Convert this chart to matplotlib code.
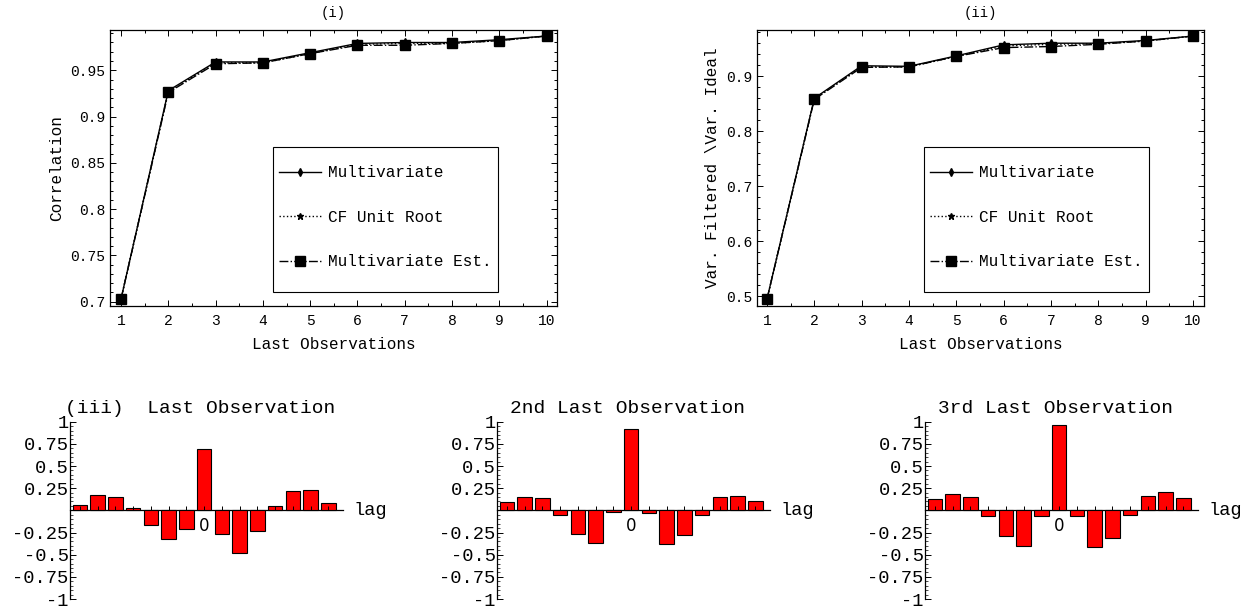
import matplotlib
matplotlib.use("Agg")
import matplotlib.pyplot as plt
from matplotlib.ticker import MultipleLocator, FixedLocator, FuncFormatter
from matplotlib.patches import Rectangle

plt.rcParams["font.family"] = ["Liberation Mono", "DejaVu Sans"]

# --- data ---
obs = [1, 2, 3, 4, 5, 6, 7, 8, 9, 10]

corr_multi = [0.703, 0.928, 0.959, 0.959, 0.969, 0.979, 0.980, 0.980, 0.983, 0.987]
corr_cf = [0.703, 0.927, 0.958, 0.958, 0.968, 0.978, 0.979, 0.979, 0.982, 0.987]
corr_est = [0.703, 0.926, 0.957, 0.958, 0.968, 0.977, 0.977, 0.979, 0.982, 0.987]

var_multi = [0.495, 0.860, 0.919, 0.918, 0.937, 0.957, 0.960, 0.960, 0.965, 0.973]
var_cf = [0.495, 0.859, 0.917, 0.917, 0.936, 0.955, 0.958, 0.959, 0.964, 0.973]
var_est = [0.495, 0.858, 0.916, 0.917, 0.936, 0.952, 0.954, 0.958, 0.964, 0.973]

lags = list(range(-7, 8))
w_last = [0.064, 0.177, 0.147, 0.026, -0.162, -0.323, -0.207, 0.688,
          -0.271, -0.477, -0.237, 0.053, 0.222, 0.226, 0.086]
w_2nd = [0.098, 0.154, 0.143, -0.049, -0.267, -0.365, -0.023, 0.921,
         -0.034, -0.380, -0.274, -0.049, 0.147, 0.162, 0.109]
w_3rd = [0.128, 0.188, 0.154, -0.060, -0.293, -0.398, -0.064, 0.962,
         -0.064, -0.410, -0.308, -0.053, 0.162, 0.211, 0.143]

labels = ["Multivariate", "CF Unit Root", "Multivariate Est."]
bar_ticks = [-1, -0.75, -0.5, -0.25, 0.25, 0.5, 0.75, 1]
bar_ticklabels = ["-1", "-0.75", "-0.5", "-0.25", "0.25", "0.5", "0.75", "1"]

W, H = 1258, 607
fig = plt.figure(figsize=(W / 100, H / 100), dpi=100)


def box(l, t, r, b):
    return [l / W, 1 - b / H, (r - l) / W, (b - t) / H]


def top_panel(rect, y1, y2, y3, xlim, ylim, major, minor, fmt, title, ylabel, leg_x):
    ax = fig.add_axes(rect)
    ax.plot(obs, y1, "-", color="black", lw=1.0, marker="d", ms=4)
    ax.plot(obs, y2, ":", color="black", lw=1.0, marker="*", ms=5)
    ax.plot(obs, y3, "-.", color="black", lw=1.0, marker="s", ms=7.5)
    ax.set_xlim(*xlim)
    ax.set_ylim(*ylim)
    ax.xaxis.set_major_locator(MultipleLocator(1))
    ax.xaxis.set_minor_locator(MultipleLocator(0.5))
    ax.yaxis.set_major_locator(MultipleLocator(major))
    ax.yaxis.set_minor_locator(MultipleLocator(minor))
    ax.yaxis.set_major_formatter(FuncFormatter(fmt))
    ax.tick_params(which="both", direction="in", top=True, right=True, labelsize=10.5, width=0.7)
    ax.tick_params(which="major", length=4)
    ax.tick_params(which="minor", length=2)
    ax.tick_params(axis="x", pad=6)
    for s in ax.spines.values():
        s.set_linewidth(0.9)
    ax.set_title(title, fontsize=10, pad=9)
    ax.set_xlabel("Last Observations", fontsize=11.5, labelpad=6)
    ax.set_ylabel(ylabel, fontsize=11.5, labelpad=4)

    # legend frame drawn by hand so the padding matches
    ax.add_patch(Rectangle((leg_x, 0.0507), 0.503, 0.5253, transform=ax.transAxes,
                           fill=False, edgecolor="black", lw=0.8, zorder=5))
    ax.legend(labels, loc="upper left", bbox_to_anchor=(leg_x + 0.014, 0.51),
              fontsize=11.5, frameon=False, handlelength=2.6, handletextpad=0.45,
              labelspacing=1.85, borderpad=0, numpoints=1, borderaxespad=0)
    return ax


def fmt_corr(v, pos):
    return f"{v:.2f}".rstrip("0")


def fmt_var(v, pos):
    return f"{v:.1f}"


# (i) correlation
top_panel(box(110, 30, 557, 306), corr_multi, corr_cf, corr_est,
          (0.767, 10.22), (0.6954, 0.9935), 0.05, 0.01, fmt_corr,
          "(i)", "Correlation", 0.3647)

# (ii) variance ratio
top_panel(box(757, 30, 1204, 306), var_multi, var_cf, var_est,
          (0.789, 10.23), (0.4824, 0.984), 0.1, 0.02, fmt_var,
          "(ii)", "Var. Filtered \\Var. Ideal", 0.3736)


def bar_panel(left, weights, title):
    ax = fig.add_axes(box(left, 421.7, left + 273, 599))
    ax.bar(lags, weights, width=0.82, color="#ff0000", edgecolor="black", linewidth=0.8, zorder=1)
    ax.set_xlim(-7.56, 7.83)
    ax.set_ylim(-1, 1)
    ax.spines["top"].set_visible(False)
    ax.spines["right"].set_visible(False)
    ax.spines["bottom"].set_position(("data", 0))
    ax.spines["bottom"].set_zorder(0)
    ax.spines["bottom"].set_linewidth(0.9)
    ax.spines["left"].set_linewidth(0.9)
    ax.xaxis.set_major_locator(FixedLocator(lags))
    ax.set_xticklabels([""] * 7 + ["0"] + [""] * 7, family="DejaVu Sans", fontsize=12)
    ax.tick_params(axis="x", direction="in", length=3, width=0.7, pad=5)
    ax.yaxis.set_major_locator(FixedLocator(bar_ticks))
    ax.set_yticklabels(bar_ticklabels)
    ax.yaxis.set_minor_locator(MultipleLocator(0.05))
    ax.tick_params(axis="y", which="major", direction="in", length=4, width=0.7, labelsize=13.5, pad=1)
    ax.tick_params(axis="y", which="minor", direction="in", length=2, width=0.5)
    ax.patch.set_visible(False)
    ax.text(1.04, 0.5, "lag", transform=ax.transAxes, fontsize=13.5, va="center", ha="left")
    ax.text(0.478, 1.025, title, transform=ax.transAxes, fontsize=14, ha="center", va="bottom")
    return ax


bar_panel(70, w_last, "(iii)  Last Observation")
bar_panel(497, w_2nd, "2nd Last Observation")
bar_panel(925, w_3rd, "3rd Last Observation")

fig.savefig("out.png", dpi=100)
